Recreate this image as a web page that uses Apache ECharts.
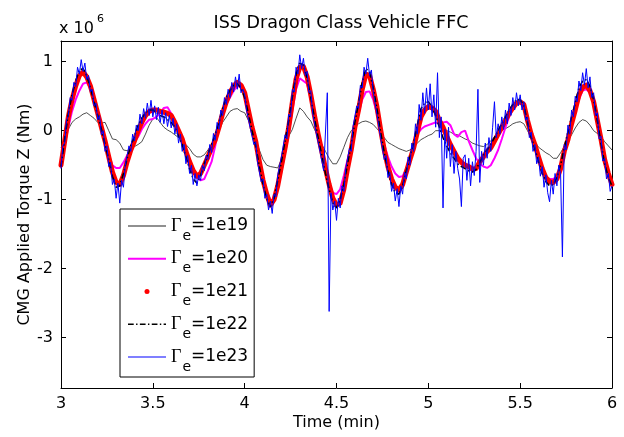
<!DOCTYPE html>
<html>
<head>
<meta charset="utf-8">
<title>ISS Dragon Class Vehicle FFC</title>
<script src="https://cdn.jsdelivr.net/npm/echarts@6/dist/echarts.min.js"></script>
<style>
  html, body { margin: 0; padding: 0; background: #fff; }
  #chart { width: 624px; height: 437px; }
</style>
</head>
<body>
<div id="chart"></div>
<script>
// torque values are in units of 1e6 Nm, time in minutes
var tStart = 3;
var coarseStep = 0.02;   // 1e19 .. 1e22 runs
var fineStep = 0.01;     // 1e23 run

var xTicks = [3, 3.5, 4, 4.5, 5, 5.5, 6];
var yTicks = [-3, -2, -1, 0, 1];

var gamma1e19 = [
  -0.25, -0.12, 0.02, 0.12, 0.17, 0.20, 0.24, 0.26, 0.22, 0.18,
  0.12, 0.11, 0.12, 0.00, -0.12, -0.13, -0.18, -0.28, -0.29, -0.25,
  -0.23, -0.20, -0.16, -0.05, 0.08, 0.17, 0.19, 0.12, 0.05, 0.01,
  -0.02, -0.06, -0.10, -0.15, -0.20, -0.26, -0.34, -0.38, -0.38, -0.35,
  -0.28, -0.20, -0.10, 0.00, 0.12, 0.20, 0.28, 0.31, 0.32, 0.28,
  0.26, 0.15, 0.04, -0.12, -0.28, -0.42, -0.50, -0.52, -0.53, -0.54,
  -0.42, -0.22, -0.08, 0.02, 0.18, 0.33, 0.28, 0.20, 0.14, 0.02,
  -0.09, -0.20, -0.30, -0.40, -0.48, -0.48, -0.38, -0.24, -0.10, 0.00,
  0.05, 0.10, 0.13, 0.14, 0.12, 0.09, 0.03, -0.03, -0.10, -0.17,
  -0.20, -0.23, -0.26, -0.28, -0.30, -0.28, -0.23, -0.18, -0.13, -0.10,
  -0.07, -0.05, 0.00, 0.00, 0.01, 0.00, -0.02, -0.05, -0.06, -0.09,
  -0.12, -0.14, -0.18, -0.20, -0.22, -0.23, -0.20, -0.15, -0.09, -0.05,
  0.00, 0.03, 0.06, 0.10, 0.12, 0.13, 0.10, 0.00, -0.10, -0.16,
  -0.24, -0.28, -0.32, -0.35, -0.40, -0.40, -0.32, -0.23, -0.15, -0.06,
  0.04, 0.12, 0.16, 0.14, 0.08, 0.00, -0.04, -0.08, -0.16, -0.22,
  -0.28
];

var gamma1e20 = [
  -0.42, -0.20, 0.05, 0.28, 0.45, 0.58, 0.68, 0.70, 0.60, 0.45,
  0.25, 0.05, -0.15, -0.35, -0.50, -0.54, -0.54, -0.46, -0.36, -0.25,
  -0.16, -0.09, 0.02, 0.10, 0.16, 0.17, 0.20, 0.26, 0.33, 0.34,
  0.25, 0.15, 0.00, -0.15, -0.30, -0.45, -0.58, -0.68, -0.72, -0.70,
  -0.58, -0.45, -0.22, 0.05, 0.25, 0.38, 0.48, 0.58, 0.64, 0.64,
  0.55, 0.35, 0.08, -0.15, -0.42, -0.68, -0.88, -1.00, -1.02, -0.85,
  -0.60, -0.32, -0.05, 0.30, 0.60, 0.76, 0.72, 0.68, 0.45, 0.18,
  -0.08, -0.32, -0.55, -0.75, -0.90, -0.92, -0.85, -0.65, -0.42, -0.20,
  0.05, 0.25, 0.45, 0.56, 0.57, 0.45, 0.25, 0.02, -0.20, -0.38,
  -0.52, -0.62, -0.67, -0.66, -0.55, -0.38, -0.18, -0.05, 0.02, 0.06,
  0.08, 0.10, 0.12, 0.10, 0.12, 0.13, 0.08, -0.05, -0.09, -0.02,
  0.00, -0.15, -0.28, -0.40, -0.48, -0.52, -0.54, -0.50, -0.40, -0.28,
  -0.12, 0.05, 0.20, 0.32, 0.40, 0.42, 0.36, 0.15, -0.08, -0.25,
  -0.42, -0.56, -0.66, -0.70, -0.70, -0.66, -0.52, -0.32, -0.12, 0.08,
  0.28, 0.45, 0.58, 0.60, 0.55, 0.40, 0.15, -0.12, -0.40, -0.60,
  -0.75
];

var gamma1e21 = [
  -0.50, -0.15, 0.20, 0.45, 0.65, 0.80, 0.85, 0.78, 0.65, 0.45,
  0.25, 0.05, -0.15, -0.38, -0.60, -0.75, -0.78, -0.65, -0.45, -0.28,
  -0.15, 0.00, 0.12, 0.22, 0.28, 0.30, 0.30, 0.28, 0.27, 0.25,
  0.22, 0.12, 0.00, -0.12, -0.30, -0.45, -0.58, -0.66, -0.62, -0.50,
  -0.38, -0.25, -0.13, 0.05, 0.25, 0.42, 0.55, 0.65, 0.70, 0.66,
  0.55, 0.30, 0.05, -0.15, -0.45, -0.72, -0.92, -1.08, -1.00, -0.80,
  -0.52, -0.25, 0.05, 0.42, 0.75, 0.92, 0.93, 0.78, 0.52, 0.22,
  -0.05, -0.30, -0.55, -0.78, -0.98, -1.08, -1.05, -0.85, -0.55, -0.28,
  0.05, 0.30, 0.60, 0.82, 0.80, 0.60, 0.35, 0.02, -0.28, -0.52,
  -0.70, -0.82, -0.86, -0.78, -0.60, -0.42, -0.25, -0.02, 0.20, 0.30,
  0.35, 0.33, 0.28, 0.15, 0.05, -0.08, -0.20, -0.30, -0.40, -0.46,
  -0.50, -0.52, -0.56, -0.55, -0.45, -0.38, -0.30, -0.25, -0.15, -0.05,
  0.05, 0.15, 0.25, 0.33, 0.40, 0.42, 0.38, 0.15, -0.05, -0.20,
  -0.38, -0.55, -0.68, -0.74, -0.75, -0.70, -0.55, -0.30, -0.13, 0.10,
  0.30, 0.52, 0.63, 0.66, 0.58, 0.42, 0.15, -0.12, -0.42, -0.62,
  -0.78
];

var gamma1e22 = [
  -0.52, -0.12, 0.25, 0.52, 0.72, 0.88, 0.90, 0.80, 0.62, 0.42,
  0.22, 0.02, -0.20, -0.42, -0.66, -0.82, -0.80, -0.62, -0.40, -0.22,
  -0.08, 0.08, 0.18, 0.26, 0.30, 0.30, 0.26, 0.22, 0.20, 0.16,
  0.12, 0.05, -0.08, -0.20, -0.38, -0.55, -0.70, -0.76, -0.65, -0.48,
  -0.34, -0.20, -0.05, 0.12, 0.32, 0.48, 0.58, 0.66, 0.68, 0.62,
  0.48, 0.25, 0.00, -0.22, -0.52, -0.78, -0.98, -1.10, -0.98, -0.72,
  -0.45, -0.15, 0.15, 0.50, 0.82, 0.98, 0.95, 0.76, 0.48, 0.18,
  -0.10, -0.36, -0.62, -0.85, -1.05, -1.12, -1.00, -0.78, -0.48, -0.20,
  0.12, 0.40, 0.70, 0.90, 0.85, 0.62, 0.32, -0.02, -0.32, -0.58,
  -0.78, -0.90, -0.92, -0.80, -0.58, -0.38, -0.18, 0.08, 0.32, 0.40,
  0.42, 0.35, 0.22, 0.05, -0.10, -0.22, -0.32, -0.40, -0.48, -0.52,
  -0.55, -0.58, -0.60, -0.56, -0.46, -0.36, -0.28, -0.20, -0.10, 0.00,
  0.10, 0.20, 0.30, 0.38, 0.45, 0.45, 0.36, 0.12, -0.10, -0.26,
  -0.45, -0.62, -0.74, -0.80, -0.78, -0.68, -0.50, -0.25, -0.02, 0.20,
  0.40, 0.62, 0.72, 0.74, 0.65, 0.45, 0.15, -0.18, -0.48, -0.68,
  -0.80
];

var gamma1e23 = [
  -0.55, -0.22, -0.18, 0.15, 0.22, 0.48, 0.44, 0.70, 0.64, 0.92,
  0.82, 1.03, 0.86, 0.98, 0.74, 0.80, 0.56, 0.60, 0.36, 0.40,
  0.16, 0.22, -0.06, 0.00, -0.30, -0.22, -0.52, -0.46, -0.78, -0.70,
  -0.98, -0.76, -1.05, -0.72, -0.82, -0.50, -0.52, -0.22, -0.30, -0.05,
  -0.15, 0.08, 0.00, 0.24, 0.10, 0.32, 0.18, 0.40, 0.22, 0.44,
  0.20, 0.36, 0.16, 0.34, 0.12, 0.30, 0.10, 0.26, 0.06, 0.22,
  0.04, 0.18, -0.05, 0.10, -0.18, -0.05, -0.30, -0.20, -0.48, -0.36,
  -0.62, -0.50, -0.78, -0.62, -0.80, -0.64, -0.72, -0.50, -0.58, -0.36,
  -0.42, -0.20, -0.32, -0.04, -0.14, 0.12, 0.02, 0.30, 0.22, 0.48,
  0.38, 0.60, 0.48, 0.70, 0.56, 0.78, 0.60, 0.82, 0.55, 0.60,
  0.52, 0.30, 0.32, 0.04, 0.06, -0.20, -0.16, -0.46, -0.44, -0.74,
  -0.70, -0.98, -0.92, -1.15, -1.02, -1.20, -0.92, -0.96, -0.64, -0.66,
  -0.38, -0.40, -0.06, -0.12, 0.24, 0.20, 0.60, 0.56, 0.92, 0.82,
  1.10, 0.90, 1.05, 0.80, 0.86, 0.55, 0.58, 0.26, 0.28, -0.04,
  -0.02, -0.30, -0.28, -0.58, -0.60, 0.55, -2.62, -0.90, -1.15, -1.02,
  -1.30, -0.98, -1.12, -0.80, -0.88, -0.56, -0.58, -0.26, -0.30, 0.06,
  0.04, 0.36, 0.32, 0.66, 0.62, 0.92, 0.82, 1.05, 0.80, 0.88,
  0.56, 0.58, 0.24, 0.22, -0.10, -0.10, -0.42, -0.36, -0.68, -0.60,
  -0.88, -0.76, -1.02, -0.84, -1.10, -0.80, -0.92, -0.60, -0.70, -0.38,
  -0.50, -0.18, -0.30, 0.10, -0.05, 0.38, 0.15, 0.55, 0.25, 0.62,
  0.30, 0.68, 0.20, 0.52, 0.05, 0.84, -0.10, 0.20, -1.12, 0.02,
  -0.40, 0.05, -0.52, -0.20, -0.62, -0.30, -0.55, -0.70, -1.10, -0.40,
  -0.35, -0.72, -0.40, -0.80, -0.45, -0.65, -0.30, 0.60, -0.75, -0.30,
  -0.50, -0.18, -0.40, -0.10, -0.30, 0.05, 0.42, -0.10, 0.10, -0.05,
  0.20, 0.02, 0.30, 0.10, 0.40, 0.22, 0.48, 0.30, 0.55, 0.36,
  0.52, 0.30, 0.42, 0.15, 0.20, -0.10, -0.02, -0.30, -0.20, -0.48,
  -0.38, -0.66, -0.52, -0.82, -0.64, -0.90, -1.03, -0.72, -0.92, -0.62,
  -0.80, -0.50, -0.62, -1.83, -0.20, -0.28, 0.08, -0.05, 0.30, 0.20,
  0.50, 0.42, 0.72, 0.58, 0.84, 0.66, 0.90, 0.62, 0.78, 0.48,
  0.55, 0.22, 0.26, -0.12, -0.08, -0.44, -0.40, -0.70, -0.62, -0.88,
  -0.80
];

var seriesNames = ['1e19', '1e20', '1e21', '1e22', '1e23'];

function withTime(values, step) {
  var out = [];
  for (var i = 0; i < values.length; i++) {
    out.push([+(tStart + i * step).toFixed(2), values[i]]);
  }
  return out;
}

var font = 'DejaVu Sans';

// legend samples, drawn as thin filled strips (keeps the dash-dot pattern)
var iconThin = 'path://M0,0L40,0L40,0.8L0,0.8Z';
var iconThick = 'path://M0,0L40,0L40,2L0,2Z';
var iconSolid = 'path://M0,0L40,0L40,1.1L0,1.1Z';
var iconDashDot = 'path://M0,0h6v1.5h-6Z M8.5,0h1.5v1.5h-1.5Z M12.5,0h6v1.5h-6Z M21,0h1.5v1.5h-1.5Z ' +
  'M25,0h6v1.5h-6Z M33.5,0h1.5v1.5h-1.5Z M37.5,0h2.5v1.5h-2.5Z';

var myChart = echarts.init(document.getElementById('chart'), null, { renderer: 'canvas' });

var frameAxis = {
  axisLine: { show: true, onZero: false, lineStyle: { color: '#000', width: 1 } },
  axisTick: { show: true, inside: true, length: 5, lineStyle: { color: '#000' } },
  splitLine: { show: false }
};

option = {
  animation: false,
  backgroundColor: '#fff',
  title: {
    text: 'ISS Dragon Class Vehicle FFC',
    left: 336,
    top: 9,
    textAlign: 'center',
    textStyle: { fontFamily: font, fontSize: 17.5, fontWeight: 'normal', color: '#000' }
  },
  graphic: [
    { type: 'text', left: 59, top: 21, style: { text: 'x 10', fontFamily: font, fontSize: 16, fill: '#000' } },
    { type: 'text', left: 97, top: 14, style: { text: '6', fontFamily: font, fontSize: 11, fill: '#000' } }
  ],
  grid: { left: 61, right: 12, top: 41, bottom: 49, containLabel: false, outerBoundsMode: 'none' },
  legend: {
    orient: 'vertical',
    left: 120,
    top: 209,
    data: [
      { name: '1e19', icon: iconThin },
      { name: '1e20', icon: iconThick },
      { name: '1e21', icon: 'circle' },
      { name: '1e22', icon: iconDashDot },
      { name: '1e23', icon: iconSolid }
    ],
    itemWidth: 38,
    itemHeight: 5,
    itemGap: -1.25,
    padding: [0, 6, 3, 8],
    backgroundColor: '#fff',
    borderColor: '#000',
    borderWidth: 1,
    borderRadius: 0,
    selectedMode: false,
    formatter: function (name) {
      return '{g|\u0393}{s|e}{t|=' + name + '}';
    },
    textStyle: {
      color: '#000',
      rich: {
        g: { fontFamily: 'Liberation Serif', fontSize: 18, lineHeight: 20, color: '#000' },
        s: { fontFamily: font, fontSize: 14, lineHeight: 20, padding: [20, 0, 0, 1], color: '#000' },
        t: { fontFamily: font, fontSize: 17, lineHeight: 20, color: '#000' }
      }
    }
  },
  xAxis: [
    echarts.util.merge({
      type: 'value', position: 'bottom', min: 3, max: 6, interval: 0.5,
      name: 'Time (min)', nameLocation: 'middle', nameGap: 27, nameMoveOverlap: false,
      nameTextStyle: { fontFamily: font, fontSize: 16, color: '#000' },
      axisLabel: { fontFamily: font, fontSize: 16, color: '#000', margin: 8 }
    }, frameAxis, true),
    echarts.util.merge({
      type: 'value', position: 'top', min: 3, max: 6, interval: 0.5,
      axisLabel: { show: false }
    }, frameAxis, true)
  ],
  yAxis: [
    echarts.util.merge({
      type: 'value', position: 'left', min: -3.73, max: 1.3,
      name: 'CMG Applied Torque Z (Nm)', nameLocation: 'middle', nameGap: 28, nameMoveOverlap: false,
      nameTextStyle: { fontFamily: font, fontSize: 16, color: '#000' },
      axisLabel: { fontFamily: font, fontSize: 16, color: '#000', margin: 8, customValues: yTicks },
      axisTick: { customValues: yTicks }
    }, frameAxis, false),
    echarts.util.merge({
      type: 'value', position: 'right', min: -3.73, max: 1.3,
      axisLabel: { show: false, customValues: yTicks },
      axisTick: { customValues: yTicks }
    }, frameAxis, false)
  ],
  series: [
    {
      name: seriesNames[0], type: 'line', symbol: 'none', silent: true,
      data: withTime(gamma1e19, coarseStep),
      itemStyle: { color: '#222' },
      lineStyle: { color: '#222', width: 0.8 }
    },
    {
      name: seriesNames[1], type: 'line', symbol: 'none', silent: true,
      data: withTime(gamma1e20, coarseStep),
      itemStyle: { color: '#ff00ff' },
      lineStyle: { color: '#ff00ff', width: 2 }
    },
    {
      name: seriesNames[2], type: 'line', symbol: 'none', silent: true,
      data: withTime(gamma1e21, coarseStep),
      itemStyle: { color: '#ff0000' },
      lineStyle: { color: '#ff0000', width: 5, cap: 'round', join: 'round' }
    },
    {
      name: seriesNames[3], type: 'line', symbol: 'none', silent: true,
      data: withTime(gamma1e22, coarseStep),
      itemStyle: { color: '#000' },
      lineStyle: { color: '#000', width: 1.6, type: [6, 2.5, 1.5, 2.5] }
    },
    {
      name: seriesNames[4], type: 'line', symbol: 'none', silent: true,
      data: withTime(gamma1e23, fineStep),
      itemStyle: { color: '#0000ff' },
      lineStyle: { color: '#0000ff', width: 1 }
    }
  ]
};

if (option && typeof option === 'object') {
  myChart.setOption(option, true);
}
</script>
</body>
</html>
